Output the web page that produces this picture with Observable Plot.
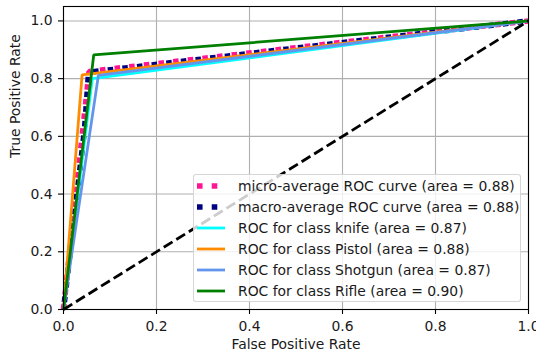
<!DOCTYPE html>
<html>
<head>
<meta charset="utf-8">
<script src="https://cdn.jsdelivr.net/npm/d3@7"></script>
<script src="https://cdn.jsdelivr.net/npm/@observablehq/plot@0.6"></script>
<style>
  html, body { margin: 0; padding: 0; background: #fff; }
  #wrap { position: relative; width: 536px; height: 359px; font-family: "DejaVu Sans", sans-serif; }
  #legend { position: absolute; left: 193px; top: 174px; width: 328px; height: 128px;
    background: rgba(255,255,255,0.8); border: 1px solid rgba(204,204,204,0.8); border-radius: 3px; box-sizing: border-box; }
  .row { position: absolute; left: 0; height: 20px; display: flex; align-items: center; }
  .row svg { margin-left: 3px; }
  .row span { margin-left: 10px; font-size: 13.9px; color: #1a1a1a; white-space: nowrap; }
</style>
</head>
<body>
<div id="wrap"></div>
<script>
// ---- data ----
const microFpr = [0, 0.055, 1];
const microTpr = [0, 0.825, 1];
const macroFpr = [0, 0.045, 0.054, 1];
const macroTpr = [0, 0.62, 0.822, 1];
const knifeFpr = [0, 0.062, 1];
const knifeTpr = [0, 0.800, 1];
const pistolFpr = [0, 0.040, 1];
const pistolTpr = [0, 0.813, 1];
const shotgunFpr = [0, 0.075, 1];
const shotgunTpr = [0, 0.811, 1];
const rifleFpr = [0, 0.065, 1];
const rifleTpr = [0, 0.882, 1];
const diagFpr = [0, 1];
const diagTpr = [0, 1];
const legendLabels = [
  "micro-average ROC curve (area = 0.88)",
  "macro-average ROC curve (area = 0.88)",
  "ROC for class knife (area = 0.87)",
  "ROC for class Pistol (area = 0.88)",
  "ROC for class Shotgun (area = 0.87)",
  "ROC for class Rifle (area = 0.90)"
];
const xTicks = [0, 0.2, 0.4, 0.6, 0.8, 1.0];
const yTicks = [0, 0.2, 0.4, 0.6, 0.8, 1.0];
const xLabel = "False Positive Rate";
const yLabel = "True Positive Rate";

const toRows = (fpr, tpr) => fpr.map((f, i) => ({fpr: f, tpr: tpr[i]}));

const styles = [
  {fpr: microFpr, tpr: microTpr, color: "deeppink", width: 5.56, dash: "5.56,9.17", offset: 0},
  {fpr: macroFpr, tpr: macroTpr, color: "navy", width: 5.56, dash: "5.56,9.17", offset: 7.3},
  {fpr: knifeFpr, tpr: knifeTpr, color: "aqua", width: 2.78, dash: null},
  {fpr: pistolFpr, tpr: pistolTpr, color: "darkorange", width: 2.78, dash: null},
  {fpr: shotgunFpr, tpr: shotgunTpr, color: "cornflowerblue", width: 2.78, dash: null},
  {fpr: rifleFpr, tpr: rifleTpr, color: "green", width: 2.78, dash: null}
];

const lineMarks = styles.map(s => Plot.line(toRows(s.fpr, s.tpr), {
  x: "fpr", y: "tpr", stroke: s.color, strokeWidth: s.width,
  strokeDasharray: s.dash || undefined, strokeDashoffset: s.offset || undefined,
  strokeLinecap: "butt", strokeLinejoin: "miter"
}));

const chart = Plot.plot({
  width: 536,
  height: 359,
  marginLeft: 63,
  marginRight: 8,
  marginTop: 6,
  marginBottom: 50,
  style: {fontFamily: "DejaVu Sans, sans-serif", fontSize: "13.9px", color: "#1a1a1a", background: "#fff", overflow: "visible"},
  x: {domain: [0, 1]},
  y: {domain: [0, 1.05]},
  marks: [
    Plot.gridX(xTicks, {stroke: "#b0b0b0", strokeOpacity: 1, strokeWidth: 1.1}),
    Plot.gridY(yTicks, {stroke: "#b0b0b0", strokeOpacity: 1, strokeWidth: 1.1}),
    ...lineMarks,
    Plot.line(toRows(diagFpr, diagTpr), {x: "fpr", y: "tpr", stroke: "black", strokeWidth: 2.78, strokeDasharray: "10.3,4.45", strokeLinecap: "butt"}),
    Plot.frame({stroke: "black", strokeWidth: 1.1}),
    Plot.axisX(xTicks, {tickFormat: d3.format(".1f"), tickSize: 5, tickPadding: 7, label: null, strokeWidth: 1.1, stroke: "black"}),
    Plot.axisY(yTicks, {tickFormat: d3.format(".1f"), tickSize: 5, tickPadding: 6, label: null, strokeWidth: 1.1, stroke: "black"}),
    Plot.text([xLabel], {text: d => d, frameAnchor: "bottom", dy: 39, fill: "#1a1a1a"}),
    Plot.text([yLabel], {text: d => d, frameAnchor: "left", rotate: -90, dx: -48, fill: "#1a1a1a"})
  ]
});

const wrap = document.getElementById("wrap");
wrap.appendChild(chart);

// legend
const legend = document.createElement("div");
legend.id = "legend";
wrap.appendChild(legend);
legendLabels.forEach((label, i) => {
  const s = styles[i];
  const row = document.createElement("div");
  row.className = "row";
  row.style.top = (1.3 + i * 20.9) + "px";
  const svg = d3.create("svg").attr("width", 31).attr("height", 20);
  const ln = svg.append("line").attr("x1", 0).attr("x2", 28).attr("y1", 10).attr("y2", 10)
    .attr("stroke", s.color).attr("stroke-width", s.width);
  if (s.dash) ln.attr("stroke-dasharray", s.dash);
  row.appendChild(svg.node());
  const span = document.createElement("span");
  span.textContent = label;
  row.appendChild(span);
  legend.appendChild(row);
});
</script>
</body>
</html>
